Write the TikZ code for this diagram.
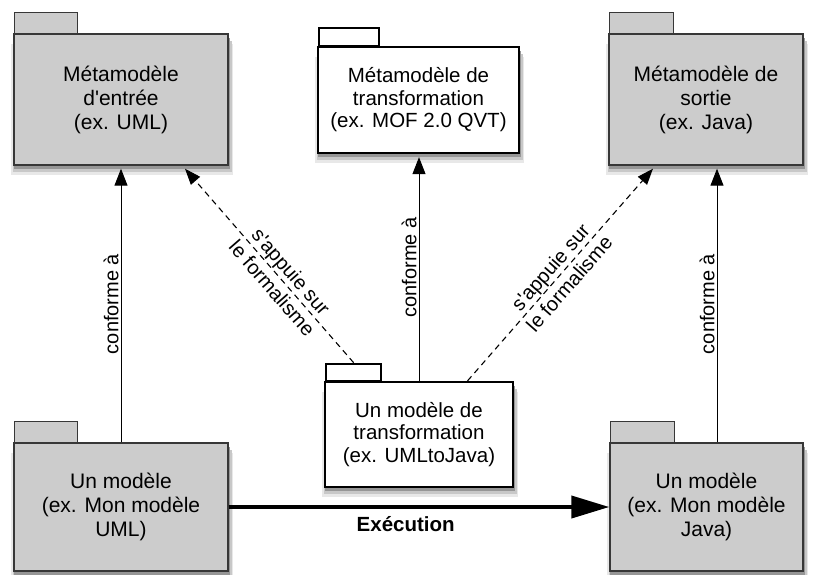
\documentclass[tikz,border=0pt]{standalone}
\usepackage{fontspec}
\setmainfont{Liberation Sans}
\usetikzlibrary{arrows.meta,calc}

\definecolor{pkgfill}{RGB}{204,204,204}
\definecolor{pkgline}{RGB}{55,55,55}
\definecolor{shadeA}{RGB}{232,232,232}
\definecolor{shadeB}{RGB}{200,200,200}
\definecolor{shadeC}{RGB}{150,150,150}

\tikzset{
  pkggray/.style={draw=pkgline,line width=1.4pt,fill=pkgfill,align=center,inner sep=0pt,
    font=\fontsize{21}{24}\selectfont},
  pkgwhite/.style={draw=black,line width=2.3pt,fill=white,align=center,inner sep=0pt,
    font=\fontsize{20.5}{22.5}\selectfont},
  tabgray/.style={draw=pkgline,line width=1.4pt,fill=pkgfill,anchor=south west,inner sep=0pt},
  tabwhite/.style={draw=black,line width=2.3pt,fill=white,anchor=south west,inner sep=0pt},
  shadowA/.style={fill=shadeA,draw=none,inner sep=0pt},
  shadowB/.style={fill=shadeB,draw=none,inner sep=0pt},
  shadowC/.style={fill=shadeC,draw=none,inner sep=0pt},
  conf/.style={draw=black,line width=1pt,-{Triangle[length=17pt,width=13pt]},shorten >=3pt},
  relies/.style={draw=black,line width=1.1pt,dash pattern=on 6pt off 4.5pt,
    -{Triangle[length=16pt,width=12pt]},shorten >=4pt},
  exec/.style={draw=black,line width=4pt,-{Triangle[length=38pt,width=22pt]}},
  lbl/.style={font=\fontsize{20}{25}\selectfont,inner sep=2pt},
}

\begin{document}
\begin{tikzpicture}[x=1pt,y=-1pt]
\useasboundingbox (0,0) rectangle (817,574);

% soft drop shadows, drawn first so that the package bodies cover them
\foreach \px/\py/\w/\h [count=\i] in {121/99.5/214/131, 418.5/100/201/106, 706/99.5/194/131,
                           121/507/214/128, 419/434.5/188/105, 706.5/507/193/128}{
  \node[shadowA,minimum width=\w pt+8pt,minimum height=\h pt] (sa\i) at (\px+1,\py+10) {};
  \node[shadowB,minimum width=\w pt+5pt,minimum height=\h pt] (sb\i) at (\px+1,\py+7) {};
  \node[shadowC,minimum width=\w pt+2pt,minimum height=\h pt] (sc\i) at (\px+1,\py+4) {};
}

% tabs of the packages
\node[tabgray,minimum width=63pt,minimum height=21pt] (tIn) at (14,34) {};
\node[tabwhite,minimum width=60pt,minimum height=18pt] (tTr) at (318,47) {};
\node[tabgray,minimum width=64pt,minimum height=21pt] (tOut) at (609,34) {};
\node[tabgray,minimum width=63pt,minimum height=21pt] (tUml) at (14,443) {};
\node[tabwhite,minimum width=55pt,minimum height=17pt] (tT) at (325,382) {};
\node[tabgray,minimum width=64pt,minimum height=21pt] (tJava) at (610,443) {};

% package bodies
\node[pkggray,minimum width=214pt,minimum height=131pt] (mIn) at (121,99.5)
  {Métamodèle\\d\textquotesingle entrée\\(ex. UML)};
\node[pkgwhite,minimum width=201pt,minimum height=106pt] (mTr) at (418.5,100)
  {Métamodèle de\\transformation\\(ex. MOF 2.0 QVT)};
\node[pkggray,minimum width=194pt,minimum height=131pt] (mOut) at (706,99.5)
  {Métamodèle de\\sortie\\(ex. Java)};
\node[pkggray,minimum width=214pt,minimum height=128pt] (mUml) at (121,507)
  {Un modèle\\(ex. Mon modèle\\UML)};
\node[pkgwhite,minimum width=188pt,minimum height=105pt] (mT) at (419,434.5)
  {Un modèle de\\transformation\\(ex. UMLtoJava)};
\node[pkggray,minimum width=193pt,minimum height=128pt] (mJava) at (706.5,507)
  {Un modèle\\(ex. Mon modèle\\Java)};

% conformity links
\draw[conf] (mUml.north) -- (mUml.north |- mIn.south)
  node[lbl,pos=0.5,rotate=90,anchor=south] {conforme à};
\draw[conf] (mT.north) -- (mT.north |- mTr.south)
  node[lbl,pos=0.5,rotate=90,anchor=south] {conforme à};
\coordinate (jTop) at ($(mJava.north)+(10.5,0)$);
\draw[conf] (jTop) -- (jTop |- mOut.south)
  node[lbl,pos=0.5,rotate=90,anchor=south] {conforme à};

% "relies on the formalism" links
\draw[relies] (tT.north) -- ($(mIn.south west)!0.785!(mIn.south east)$)
  node[lbl,pos=0.42,sloped,align=center] {s\textquotesingle appuie sur\\le formalisme};
\draw[relies] ($(mT.north west)!0.755!(mT.north east)$) -- ($(mOut.south west)!0.242!(mOut.south east)$)
  node[lbl,pos=0.49,sloped,align=center] {s\textquotesingle appuie sur\\le formalisme};

% execution
\draw[exec] (mUml.east) -- (mUml.east -| mJava.west)
  node[pos=0.465,below=4pt,font=\fontsize{20.5}{22}\selectfont\bfseries] {Exécution};
\end{tikzpicture}
\end{document}
